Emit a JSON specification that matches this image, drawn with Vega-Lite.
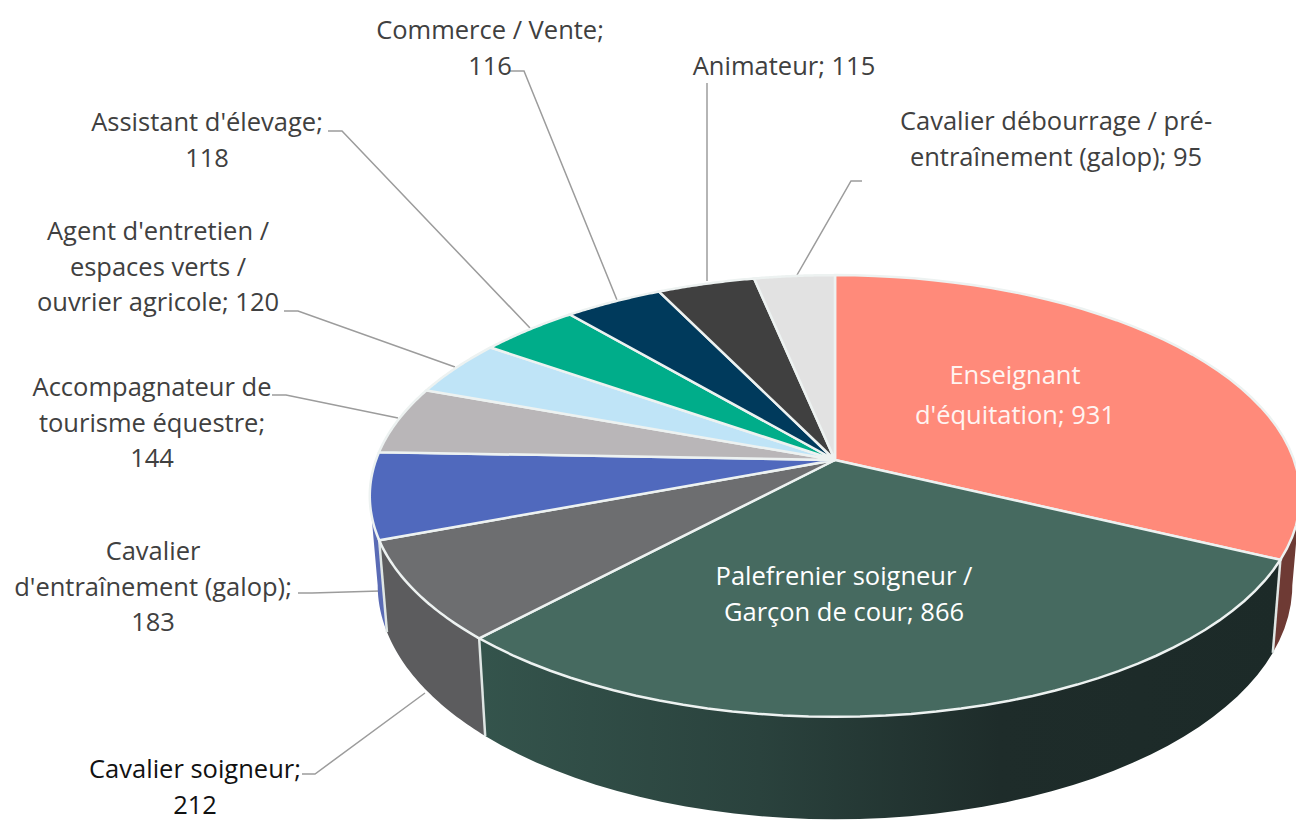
{
"$schema":"https://vega.github.io/schema/vega-lite/v6.json",
"width":1296,"height":821,
"autosize":{"type":"fit","contains":"padding"},
"padding":0,
"background":"#ffffff",
"config":{"view":{"stroke":null}},
"datasets":{
"slices":[
{"job":"Enseignant d'équitation","value":931},
{"job":"Palefrenier soigneur / Garçon de cour","value":866},
{"job":"Cavalier soigneur","value":212},
{"job":"Cavalier d'entraînement (galop)","value":183},
{"job":"Accompagnateur de tourisme équestre","value":144},
{"job":"Agent d'entretien / espaces verts / ouvrier agricole","value":120},
{"job":"Assistant d'élevage","value":118},
{"job":"Commerce / Vente","value":116},
{"job":"Animateur","value":115},
{"job":"Cavalier débourrage / pré-entraînement (galop)","value":95}
],
"labels":[
{"job":"Enseignant d'équitation","text":"Enseignant\nd'équitation; 931","x":180,"y":84},
{"job":"Palefrenier soigneur / Garçon de cour","text":"Palefrenier soigneur /\nGarçon de cour; 866","x":9,"y":-117},
{"job":"Cavalier soigneur","text":"Cavalier soigneur;\n212","x":-640,"y":-310},
{"job":"Cavalier d'entraînement (galop)","text":"Cavalier\nd'entraînement (galop);\n183","x":-682,"y":-92},
{"job":"Accompagnateur de tourisme équestre","text":"Accompagnateur de\ntourisme équestre;\n144","x":-683,"y":72},
{"job":"Agent d'entretien / espaces verts / ouvrier agricole","text":"Agent d'entretien /\nespaces verts /\nouvrier agricole; 120","x":-677,"y":228},
{"job":"Assistant d'élevage","text":"Assistant d'élevage;\n118","x":-628,"y":337},
{"job":"Commerce / Vente","text":"Commerce / Vente;\n116","x":-345,"y":429},
{"job":"Animateur","text":"Animateur; 115","x":-51,"y":393},
{"job":"Cavalier débourrage / pré-entraînement (galop)","text":"Cavalier débourrage / pré-\nentraînement (galop); 95","x":221,"y":338}
],
"leaders":[
{"job":"Commerce","seq":0,"x":-325,"y":389},{"job":"Commerce","seq":1,"x":-311,"y":389},{"job":"Commerce","seq":2,"x":-218,"y":160},
{"job":"Animateur","seq":0,"x":-128,"y":377},{"job":"Animateur","seq":1,"x":-128,"y":179},
{"job":"Debourrage","seq":0,"x":27,"y":279},{"job":"Debourrage","seq":1,"x":16,"y":279},{"job":"Debourrage","seq":2,"x":-38,"y":185},
{"job":"Assistant","seq":0,"x":-507,"y":329},{"job":"Assistant","seq":1,"x":-493,"y":329},{"job":"Assistant","seq":2,"x":-305,"y":132},
{"job":"Agent","seq":0,"x":-551,"y":149},{"job":"Agent","seq":1,"x":-537,"y":149},{"job":"Agent","seq":2,"x":-380,"y":93},
{"job":"Accompagnateur","seq":0,"x":-563,"y":65},{"job":"Accompagnateur","seq":1,"x":-549,"y":65},{"job":"Accompagnateur","seq":2,"x":-437,"y":42},
{"job":"Entrainement","seq":0,"x":-537,"y":-133},{"job":"Entrainement","seq":1,"x":-523,"y":-133},{"job":"Entrainement","seq":2,"x":-455,"y":-131},
{"job":"Soigneur","seq":0,"x":-533,"y":-314},{"job":"Soigneur","seq":1,"x":-520,"y":-314},{"job":"Soigneur","seq":2,"x":-410,"y":-233}
]
},
"layer":[
{
"data":{"name":"leaders"},
"mark":{"type":"line","stroke":"#9c9c9c","strokeWidth":1.5,"clip":true},
"encoding":{
"x":{"field":"x","type":"quantitative","axis":null,"scale":{"domain":[-835,461],"nice":false,"zero":false}},
"y":{"field":"y","type":"quantitative","axis":null,"scale":{"domain":[-361,460],"nice":false,"zero":false}},
"detail":{"field":"job"},
"order":{"field":"seq"}
}
},
{
"data":{"name":"slices"},
"transform":[
{"joinaggregate":[{"op":"sum","field":"value","as":"total"}]},
{"window":[{"op":"sum","field":"value","as":"cum"}],"sort":[{"field":"value","order":"descending"}]},
{"calculate":"2*PI*(datum.cum-datum.value)/datum.total","as":"a0"},
{"calculate":"2*PI*datum.cum/datum.total","as":"a1"},
{"calculate":"[-1,0,0.025,0.05,0.075,0.1,0.125,0.15,0.175,0.2,0.225,0.25,0.275,0.3,0.325,0.35,0.375,0.4,0.425,0.45,0.475,0.5,0.525,0.55,0.575,0.6,0.625,0.65,0.675,0.7,0.725,0.75,0.775,0.8,0.825,0.85,0.875,0.9,0.925,0.95,0.975,1,2]","as":"t"},
{"flatten":["t"]},
{"calculate":"[0,1]","as":"side"},
{"flatten":["side"]},
{"calculate":"datum.a0+clamp(datum.t,0,1)*(datum.a1-datum.a0)","as":"ang"},
{"calculate":"datum.t<0||datum.t>1?0:459*sin(datum.ang)/(1+0.163*cos(datum.ang))","as":"tx"},
{"calculate":"datum.t<0||datum.t>1?0:215*cos(datum.ang)/(1+0.163*cos(datum.ang))","as":"ty"},
{"calculate":"clamp(datum.ang,1.735,4.548)","as":"angC"},
{"calculate":"(datum.side?0.983:1)*459*sin(datum.angC)/(1+0.163*cos(datum.angC))","as":"wx"},
{"calculate":"(datum.side?1.06:1)*215*cos(datum.angC)/(1+0.163*cos(datum.angC))-(datum.side?87:0)","as":"wy"},
{"calculate":"datum.side?10-datum.t:datum.t","as":"ord"}
],
"layer":[
{
"transform":[{"filter":{"field":"job","equal":"Enseignant d'équitation"}}],
"mark":{"type":"line","fill":"#6e3a34","strokeWidth":0,"clip":true},
"encoding":{"x":{"field":"wx","type":"quantitative","axis":null,"scale":{"domain":[-835,461],"nice":false,"zero":false}},"y":{"field":"wy","type":"quantitative","axis":null,"scale":{"domain":[-361,460],"nice":false,"zero":false}},"order":{"field":"ord"}}
},
{
"transform":[{"filter":{"field":"job","equal":"Palefrenier soigneur / Garçon de cour"}}],
"mark":{"type":"line","strokeWidth":0,"clip":true,"fill":{"gradient":"linear","x1":0,"y1":0,"x2":1,"y2":0,"stops":[{"offset":0,"color":"#34544c"},{"offset":0.35,"color":"#2a423d"},{"offset":0.65,"color":"#1e2c2a"},{"offset":1,"color":"#1c2a28"}]}},
"encoding":{"x":{"field":"wx","type":"quantitative","axis":null,"scale":{"domain":[-835,461],"nice":false,"zero":false}},"y":{"field":"wy","type":"quantitative","axis":null,"scale":{"domain":[-361,460],"nice":false,"zero":false}},"order":{"field":"ord"}}
},
{
"transform":[{"filter":{"field":"job","equal":"Cavalier soigneur"}}],
"mark":{"type":"line","fill":"#5c5c5e","strokeWidth":0,"clip":true},
"encoding":{"x":{"field":"wx","type":"quantitative","axis":null,"scale":{"domain":[-835,461],"nice":false,"zero":false}},"y":{"field":"wy","type":"quantitative","axis":null,"scale":{"domain":[-361,460],"nice":false,"zero":false}},"order":{"field":"ord"}}
},
{
"transform":[{"filter":{"field":"job","equal":"Cavalier d'entraînement (galop)"}}],
"mark":{"type":"line","fill":"#5a6bb5","strokeWidth":0,"clip":true},
"encoding":{"x":{"field":"wx","type":"quantitative","axis":null,"scale":{"domain":[-835,461],"nice":false,"zero":false}},"y":{"field":"wy","type":"quantitative","axis":null,"scale":{"domain":[-361,460],"nice":false,"zero":false}},"order":{"field":"ord"}}
},
{
"transform":[{"filter":{"field":"job","oneOf":["Palefrenier soigneur / Garçon de cour","Cavalier soigneur","Cavalier d'entraînement (galop)"]}},{"filter":"datum.t===0"}],
"mark":{"type":"line","stroke":"#dfe6e4","strokeWidth":2.5,"clip":true},
"encoding":{"x":{"field":"wx","type":"quantitative","axis":null,"scale":{"domain":[-835,461],"nice":false,"zero":false}},"y":{"field":"wy","type":"quantitative","axis":null,"scale":{"domain":[-361,460],"nice":false,"zero":false}},"detail":{"field":"job"},"order":{"field":"side"}}
},
{
"transform":[{"filter":"datum.side===0"}],
"mark":{"type":"line","stroke":"#edf2f1","strokeWidth":2.5,"clip":true},
"encoding":{
"x":{"field":"tx","type":"quantitative","axis":null,"scale":{"domain":[-835,461],"nice":false,"zero":false}},
"y":{"field":"ty","type":"quantitative","axis":null,"scale":{"domain":[-361,460],"nice":false,"zero":false}},
"order":{"field":"t"},
"detail":{"field":"job"},
"fill":{"field":"job","type":"nominal","legend":null,"scale":{
"domain":["Enseignant d'équitation","Palefrenier soigneur / Garçon de cour","Cavalier soigneur","Cavalier d'entraînement (galop)","Accompagnateur de tourisme équestre","Agent d'entretien / espaces verts / ouvrier agricole","Assistant d'élevage","Commerce / Vente","Animateur","Cavalier débourrage / pré-entraînement (galop)"],
"range":["#ff8a7a","#466a60","#6d6e70","#5069bd","#b9b6b8","#bfe4f7","#00ad8a","#003a5c","#404040","#e2e2e2"]}}
}
}
]
},
{
"data":{"name":"labels"},
"transform":[{"filter":{"field":"job","equal":"Enseignant d'équitation"}}],
"mark":{"type":"text","font":"Open Sans","fontSize":25.5,"lineBreak":"\n","lineHeight":40,"align":"center","baseline":"middle","clip":true,"fill":"#fff4f1"},
"encoding":{
"x":{"field":"x","type":"quantitative","axis":null,"scale":{"domain":[-835,461],"nice":false,"zero":false}},
"y":{"field":"y","type":"quantitative","axis":null,"scale":{"domain":[-361,460],"nice":false,"zero":false}},
"text":{"field":"text","type":"nominal"}
}
},
{
"data":{"name":"labels"},
"transform":[{"filter":{"not":{"field":"job","equal":"Enseignant d'équitation"}}}],
"mark":{"type":"text","font":"Open Sans","fontSize":25.5,"lineBreak":"\n","lineHeight":35.6,"align":"center","baseline":"middle","clip":true},
"encoding":{
"x":{"field":"x","type":"quantitative","axis":null,"scale":{"domain":[-835,461],"nice":false,"zero":false}},
"y":{"field":"y","type":"quantitative","axis":null,"scale":{"domain":[-361,460],"nice":false,"zero":false}},
"text":{"field":"text","type":"nominal"},
"color":{"field":"job","type":"nominal","legend":null,"scale":{
"domain":["Palefrenier soigneur / Garçon de cour","Cavalier soigneur","Cavalier d'entraînement (galop)","Accompagnateur de tourisme équestre","Agent d'entretien / espaces verts / ouvrier agricole","Assistant d'élevage","Commerce / Vente","Animateur","Cavalier débourrage / pré-entraînement (galop)"],
"range":["#ffffff","#111111","#404040","#404040","#404040","#404040","#404040","#404040","#404040"]}}
}
}
],
"resolve":{"scale":{"fill":"independent","color":"independent"}}
}
